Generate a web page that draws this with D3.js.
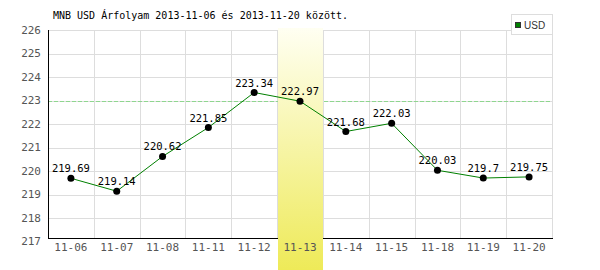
<!DOCTYPE html>
<html>
<head>
<meta charset="utf-8">
<script src="https://cdn.jsdelivr.net/npm/d3@7.9.0/dist/d3.min.js"></script>
<style>
  body { margin: 0; background: #fff; }
  text { font-family: "DejaVu Sans Mono", monospace; }
</style>
</head>
<body>
<svg id="chart" width="600" height="270"></svg>
<script>
const days = ['11-06', '11-07', '11-08', '11-11', '11-12', '11-13', '11-14', '11-15', '11-18', '11-19', '11-20'];
const usd = [219.69, 219.14, 220.62, 221.85, 223.34, 222.97, 221.68, 222.03, 220.03, 219.7, 219.75];
const yTicks = [217, 218, 219, 220, 221, 222, 223, 224, 225, 226];
const highlightDay = '11-13';
const refLine = 223;
const title = 'MNB USD Árfolyam 2013-11-06 és 2013-11-20 között.';

const plotLeft = 48, plotRight = 552, plotTop = 30, axisY = 238;

const svg = d3.select('#chart');

const x = d3.scaleBand().domain(days).range([plotLeft, plotRight]);
const y = d3.scaleLinear().domain([217, 226]).range([241.5, plotTop]);

// gradient for highlighted day
const grad = svg.append('defs').append('linearGradient')
  .attr('id', 'hl').attr('x1', 0).attr('y1', 0).attr('x2', 0).attr('y2', 1);
grad.append('stop').attr('offset', '0%').attr('stop-color', '#fffff2');
grad.append('stop').attr('offset', '100%').attr('stop-color', '#eeea58');

// grid
svg.append('g').selectAll('line')
  .data(yTicks.filter(d => d > 217))
  .join('line')
  .attr('x1', plotLeft).attr('x2', plotRight)
  .attr('y1', d => Math.round(y(d)) + 0.5).attr('y2', d => Math.round(y(d)) + 0.5)
  .attr('stroke', '#dddddd');

svg.append('g').selectAll('line')
  .data(days)
  .join('line')
  .attr('x1', d => Math.round(x(d) + x.bandwidth()) + 0.5)
  .attr('x2', d => Math.round(x(d) + x.bandwidth()) + 0.5)
  .attr('y1', plotTop).attr('y2', axisY)
  .attr('stroke', '#dddddd');

// reference line
svg.append('line')
  .attr('x1', plotLeft).attr('x2', plotRight)
  .attr('y1', Math.round(y(refLine)) + 0.5).attr('y2', Math.round(y(refLine)) + 0.5)
  .attr('stroke', '#8fd68f').attr('stroke-dasharray', '4,2');

// axes lines
svg.append('line')
  .attr('x1', plotLeft + 0.5).attr('x2', plotLeft + 0.5)
  .attr('y1', plotTop).attr('y2', axisY)
  .attr('stroke', '#000');
svg.append('line')
  .attr('x1', plotLeft).attr('x2', plotRight + 1)
  .attr('y1', axisY + 0.5).attr('y2', axisY + 0.5)
  .attr('stroke', '#000');

// highlighted column
svg.append('rect')
  .attr('x', Math.round(x(highlightDay)) + 1)
  .attr('y', plotTop - 2)
  .attr('width', Math.round(x.bandwidth()) - 1)
  .attr('height', 270 - plotTop + 2)
  .attr('fill', 'url(#hl)');

// y tick labels
svg.append('g').selectAll('text')
  .data(yTicks)
  .join('text')
  .attr('x', 41)
  .attr('y', d => y(d))
  .attr('dy', '0.35em')
  .attr('text-anchor', 'end')
  .attr('font-size', 11)
  .attr('fill', '#555')
  .text(d => d);

// x tick labels
svg.append('g').selectAll('text')
  .data(days)
  .join('text')
  .attr('x', d => x(d) + x.bandwidth() / 2)
  .attr('y', 251)
  .attr('text-anchor', 'middle')
  .attr('font-size', 11)
  .attr('fill', '#555')
  .text(d => d);

// line
const line = d3.line()
  .x((d, i) => x(days[i]) + x.bandwidth() / 2)
  .y(d => y(d));

svg.append('path')
  .datum(usd)
  .attr('d', line)
  .attr('fill', 'none')
  .attr('stroke', '#008000')
  .attr('stroke-width', 1);

svg.append('g').selectAll('circle')
  .data(usd)
  .join('circle')
  .attr('cx', (d, i) => x(days[i]) + x.bandwidth() / 2)
  .attr('cy', d => y(d))
  .attr('r', 3.5)
  .attr('fill', '#000');

svg.append('g').selectAll('text')
  .data(usd)
  .join('text')
  .attr('x', (d, i) => x(days[i]) + x.bandwidth() / 2)
  .attr('y', d => y(d) - 6)
  .attr('text-anchor', 'middle')
  .attr('font-size', 10.5)
  .attr('fill', '#000')
  .text(d => d);

// title
svg.append('text')
  .attr('x', 53).attr('y', 19)
  .attr('font-size', 10)
  .attr('fill', '#000')
  .text(title);

// legend
const lg = svg.append('g');
lg.append('rect')
  .attr('x', 511.5).attr('y', 14.5).attr('width', 41).attr('height', 20)
  .attr('fill', '#fff').attr('stroke', '#dddddd');
lg.append('rect')
  .attr('x', 515.5).attr('y', 22.5).attr('width', 5).attr('height', 5)
  .attr('fill', '#008000').attr('stroke', '#333');
lg.append('text')
  .attr('x', 524).attr('y', 28.5)
  .style('font-family', '"Liberation Sans Narrow", "Liberation Sans", sans-serif')
  .attr('font-size', 10)
  .attr('fill', '#333')
  .text('USD');
</script>
</body>
</html>
